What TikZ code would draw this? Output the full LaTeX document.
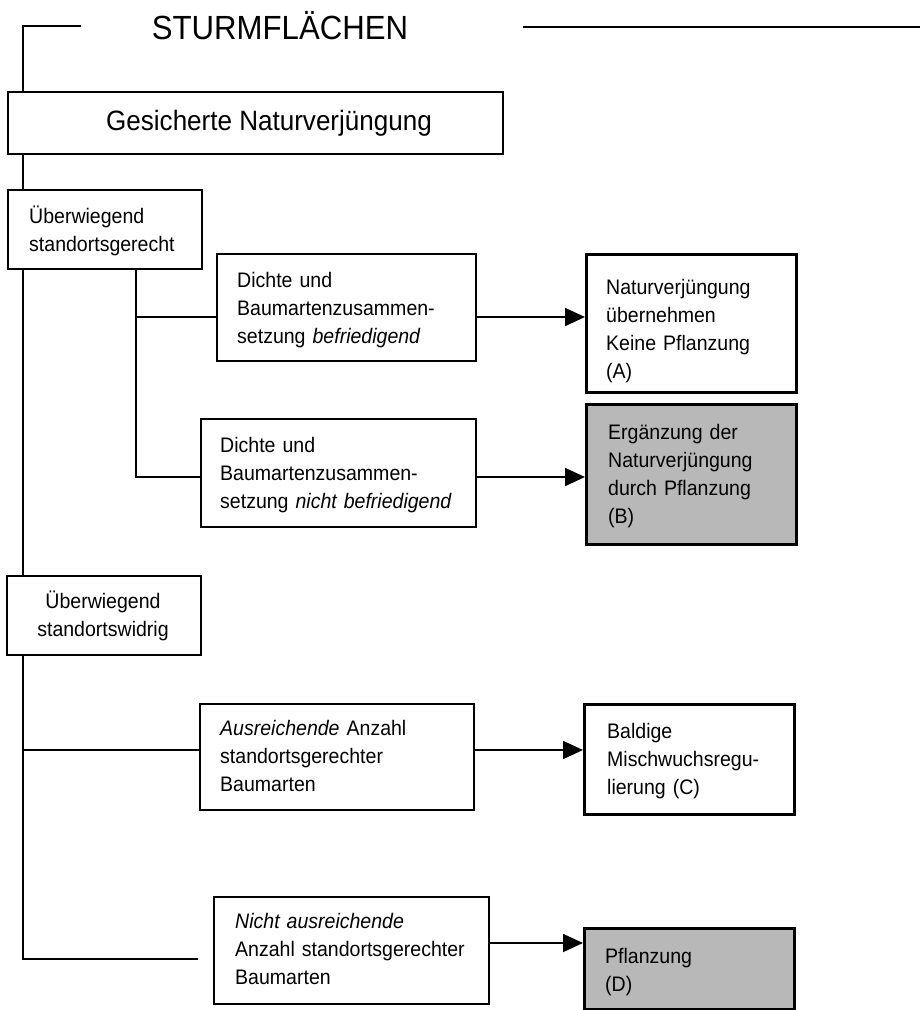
\documentclass[tikz,border=0pt]{standalone}
\usepackage{fontspec}
\setmainfont{Liberation Sans}[FakeStretch=0.93]
\usetikzlibrary{arrows.meta}
\definecolor{shade}{gray}{0.72}
\newcommand\bodyfont{\fontsize{21}{28}\selectfont}
\tikzset{
  box/.style={draw, line width=1.8pt, anchor=north west, inner sep=0pt},
  thickbox/.style={draw, line width=3.3pt, anchor=north west, inner sep=0pt},
  txt/.style={anchor=base west, inner sep=0pt, align=left, text width=270pt, font=\bodyfont},
  ln/.style={line width=1.8pt},
  arr/.style={line width=1.8pt, -{Triangle[length=20pt,width=18pt]}},
}
\begin{document}
\begin{tikzpicture}[x=1pt,y=-1pt]
\useasboundingbox (0,0) rectangle (921,1010);
\fill[white] (0,0) rectangle (921,1010);

% title
\node[anchor=base, inner sep=0pt, font=\fontsize{33.5}{40}\selectfont] (title) at (280,39) {STURMFLÄCHEN};
\coordinate (tl) at (81,26);
\coordinate (tr1) at (523,27);
\coordinate (tr2) at (920,27);
\coordinate (tx) at (23,0);
\coordinate (bx) at (136,0);

% boxes
\node[box, minimum width=495pt, minimum height=62pt] (ges) at (7,91) {};
\node[anchor=base west, inner sep=0pt, font=\fontsize{28}{34}\selectfont] (gest) at (106,130) {Gesicherte Naturverjüngung};

\node[box, minimum width=194pt, minimum height=79pt] (ger) at (7,189) {};
\node[txt] (gert) at (29,223) {Überwiegend\\standortsgerecht};

\node[box, minimum width=259pt, minimum height=107pt] (d1) at (216,253) {};
\node[txt] (d1t) at (237,287) {Dichte und\\Baumartenzusammen-\\setzung \textit{befriedigend}};

\node[box, minimum width=275pt, minimum height=108pt] (d2) at (200,418) {};
\node[txt] (d2t) at (220,452) {Dichte und\\Baumartenzusammen-\\setzung \textit{nicht befriedigend}};

\node[thickbox, minimum width=210pt, minimum height=138pt] (A) at (585,253) {};
\node[txt] (At) at (606,294) {Naturverjüngung\\übernehmen\\Keine Pflanzung\\(A)};

\node[thickbox, fill=shade, minimum width=210pt, minimum height=140pt] (B) at (585,403) {};
\node[txt] (Bt) at (608,439) {Ergänzung der\\Naturverjüngung\\durch Pflanzung\\(B)};

\node[box, minimum width=194pt, minimum height=79pt] (wid) at (6,575) {};
\node[anchor=base, inner sep=0pt, align=center, text width=194pt, font=\bodyfont] (widt) at (103,608) {Überwiegend\\standortswidrig};

\node[box, minimum width=274pt, minimum height=106pt] (aus) at (199,703) {};
\node[txt] (aust) at (220,735) {\textit{Ausreichende} Anzahl\\standortsgerechter\\Baumarten};

\node[thickbox, minimum width=210pt, minimum height=110pt] (C) at (583,703) {};
\node[txt] (Ct) at (607,738) {Baldige\\Mischwuchsregu-\\lierung (C)};

\node[box, minimum width=275pt, minimum height=107pt] (nau) at (213,896) {};
\node[txt] (naut) at (235,928) {\textit{Nicht ausreichende}\\Anzahl standortsgerechter\\Baumarten};

\node[thickbox, fill=shade, minimum width=210pt, minimum height=81pt] (D) at (583,927) {};
\node[txt] (Dt) at (605,963) {Pflanzung\\(D)};

% junction coordinates
\coordinate (j1) at (0,317);
\coordinate (j2) at (0,477);
\coordinate (j3) at (0,750);
\coordinate (j4) at (0,943);
\coordinate (endb) at (198,959);

% connectors
\draw[ln] (tl) -- (tl -| tx) -- (ges.north -| tx);
\draw[ln] (tr1) -- (tr2);
\draw[ln] (ges.south -| tx) -- (ger.north -| tx);
\draw[ln] (ger.south -| tx) -- (wid.north -| tx);
\draw[ln] (ger.south -| bx) -- (bx |- j2) -- (d2.west |- j2);
\draw[ln] (bx |- j1) -- (d1.west |- j1);
\draw[arr] (d1.east |- j1) -- (A.west |- j1);
\draw[arr] (d2.east |- j2) -- (B.west |- j2);
\draw[ln] (wid.south -| tx) -- (tx |- endb) -- (endb);
\draw[ln] (tx |- j3) -- (aus.west |- j3);
\draw[arr] (aus.east |- j3) -- (C.west |- j3);
\draw[arr] (nau.east |- j4) -- (D.west |- j4);
\end{tikzpicture}
\end{document}
